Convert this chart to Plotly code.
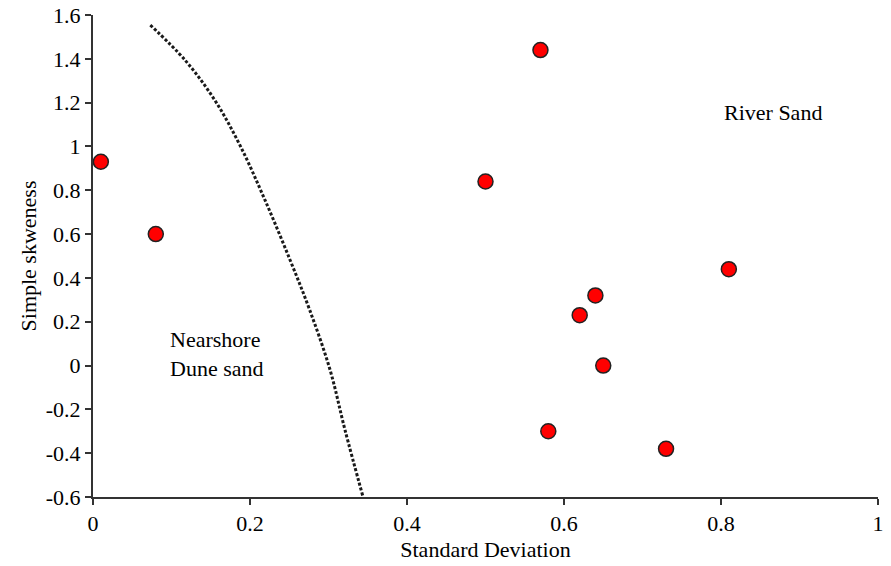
import plotly.graph_objects as go

# Sample points (Standard Deviation, Simple skewness)
std_dev = [0.01, 0.08, 0.50, 0.57, 0.62, 0.64, 0.65, 0.58, 0.73, 0.81]
skewness = [0.93, 0.60, 0.84, 1.44, 0.23, 0.32, 0.00, -0.30, -0.38, 0.44]

# Dividing curve
curve_x = [0.073, 0.117, 0.155, 0.187, 0.219, 0.251, 0.276, 0.302, 0.321, 0.344]
curve_y = [1.554, 1.395, 1.212, 1.007, 0.756, 0.482, 0.254, -0.020, -0.294, -0.600]

x_ticks = [0, 0.2, 0.4, 0.6, 0.8, 1]
x_tick_labels = ["0", "0.2", "0.4", "0.6", "0.8", "1"]
y_ticks = [-0.6, -0.4, -0.2, 0, 0.2, 0.4, 0.6, 0.8, 1, 1.2, 1.4, 1.6]
y_tick_labels = ["-0.6", "-0.4", "-0.2", "0", "0.2", "0.4", "0.6", "0.8", "1", "1.2", "1.4", "1.6"]

FONT = "Liberation Serif, Times New Roman, serif"
FS = 22

fig = go.Figure()
fig.add_trace(go.Scatter(
    x=curve_x, y=curve_y, mode="lines", line_shape="spline",
    line=dict(color="#1a1a1a", width=3, dash="3px,2px"),
    hoverinfo="skip", showlegend=False))
fig.add_trace(go.Scatter(
    x=std_dev, y=skewness, mode="markers",
    marker=dict(size=15, color="#ff0000", line=dict(color="#222222", width=1.5)),
    showlegend=False))

fig.add_annotation(x=0.866, y=1.157, text="River Sand", showarrow=False,
                   font=dict(family=FONT, size=FS, color="black"))
fig.add_annotation(x=0.157, y=0.055, text="Nearshore<br>Dune sand", showarrow=False,
                   align="left", font=dict(family=FONT, size=FS, color="black"))

fig.update_layout(
    width=891, height=566,
    margin=dict(l=93, r=13, t=15, b=69),
    paper_bgcolor="white", plot_bgcolor="white",
    font=dict(family=FONT, size=FS, color="black"),
)
fig.update_xaxes(
    range=[0, 1], tickvals=x_ticks, ticktext=x_tick_labels,
    showgrid=False, zeroline=False, showline=True, linecolor="#333333", linewidth=2,
    ticks="outside", ticklen=6, tickwidth=1.5, tickcolor="#333333",
    title=dict(text="Standard Deviation", standoff=6, font=dict(size=FS)),
    tickfont=dict(size=FS), automargin=False, ticklabeloverflow="allow")
fig.update_yaxes(
    range=[-0.6, 1.6], tickvals=y_ticks, ticktext=y_tick_labels,
    showgrid=False, zeroline=False, showline=True, linecolor="#333333", linewidth=2,
    ticks="outside", ticklen=6, tickwidth=1.5, tickcolor="#333333",
    title=dict(text="Simple skweness", standoff=3, font=dict(size=FS)),
    tickfont=dict(size=FS), automargin=False, ticklabeloverflow="allow")

# remove the default page margin so the figure fills the window exactly
fig.write_html("out.html", config={"displayModeBar": False},
               post_script="document.body.style.margin='0';")
